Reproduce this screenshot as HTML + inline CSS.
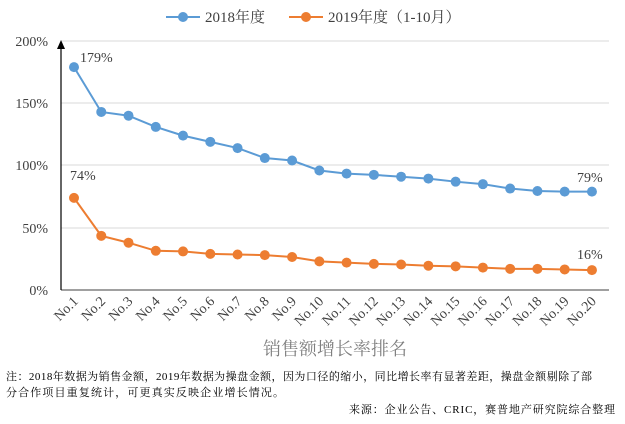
<!DOCTYPE html>
<html><head><meta charset="utf-8"><style>
body{margin:0;background:#fff;width:625px;height:419px;overflow:hidden}
text{font-family:"Liberation Serif","Noto Serif CJK SC",serif}
</style></head><body>
<svg width="625" height="419" xmlns="http://www.w3.org/2000/svg">
<g stroke="#d9d9d9" stroke-width="1">
<line x1="61" y1="41" x2="609" y2="41"/><line x1="61" y1="103" x2="609" y2="103"/>
<line x1="61" y1="165" x2="609" y2="165"/><line x1="61" y1="228" x2="609" y2="228"/>
</g>
<line x1="61" y1="290" x2="609" y2="290" stroke="#404040" stroke-width="1"/>
<line x1="61" y1="290" x2="61" y2="48" stroke="#000" stroke-width="1.2"/>
<polygon points="61,40 57,49 65,49" fill="#000"/>
<g font-size="14" fill="#404040" text-anchor="end">
<text x="48" y="46">200%</text><text x="48" y="108">150%</text><text x="48" y="170">100%</text><text x="48" y="233">50%</text><text x="48" y="295">0%</text>
</g>
<g id="c"></g>
<g font-size="14" fill="#404040">
<text x="80" y="62">179%</text><text x="70" y="180">74%</text>
<text x="577" y="182">79%</text><text x="577" y="259">16%</text>
</g>
<line x1="166" y1="17" x2="200" y2="17" stroke="#5b9bd5" stroke-width="2"/><circle cx="183" cy="17" r="5" fill="#5b9bd5"/>
<text x="205" y="22" font-size="15" fill="#404040">2018年度</text>
<line x1="289" y1="17" x2="323" y2="17" stroke="#ed7d31" stroke-width="2"/><circle cx="306" cy="17" r="5" fill="#ed7d31"/>
<text x="328" y="22" font-size="15" fill="#404040">2019年度（1-10月）</text>
<text x="335" y="355" font-size="18" fill="#7f7f7f" text-anchor="middle" font-family="Liberation Sans,Noto Sans CJK SC,sans-serif">销售额增长率排名</text>
<text x="6" y="380" font-size="11" fill="#000" textLength="586" lengthAdjust="spacing">注：2018年数据为销售金额，2019年数据为操盘金额，因为口径的缩小，同比增长率有显著差距，操盘金额剔除了部</text>
<text x="6" y="396" font-size="11" fill="#000" textLength="278" lengthAdjust="spacing">分合作项目重复统计，可更真实反映企业增长情况。</text>
<text x="615" y="413" font-size="11" fill="#000" text-anchor="end" textLength="266" lengthAdjust="spacing">来源：企业公告、CRIC，赛普地产研究院综合整理</text>
</svg>
<script>
var a=[179,143,140,131,124,119,114,106,104,96,93.5,92.5,91,89.5,87,85,81.5,79.5,79,79];
var b=[74,43.5,38,31.5,31,29,28.5,28,26.5,23,22,21,20.5,19.5,19,18,17,17,16.5,16];
var g=document.getElementById('c'),s='';
function X(i){return 74+i*27.26}function Y(v){return 290-v*1.245}
[[a,'#5b9bd5'],[b,'#ed7d31']].forEach(function(p){
var pts=p[0].map(function(v,i){return X(i)+','+Y(v)}).join(' ');
s+='<polyline points="'+pts+'" fill="none" stroke="'+p[1]+'" stroke-width="2"/>';
p[0].forEach(function(v,i){s+='<circle cx="'+X(i)+'" cy="'+Y(v)+'" r="5" fill="'+p[1]+'"/>'});});
for(var i=0;i<20;i++){var x=X(i)+5,y=302;s+='<text x="'+x+'" y="'+y+'" font-size="14" fill="#404040" text-anchor="end" transform="rotate(-45 '+x+' '+y+')">No.'+(i+1)+'</text>';}
g.innerHTML=s;
</script>
</body></html>
